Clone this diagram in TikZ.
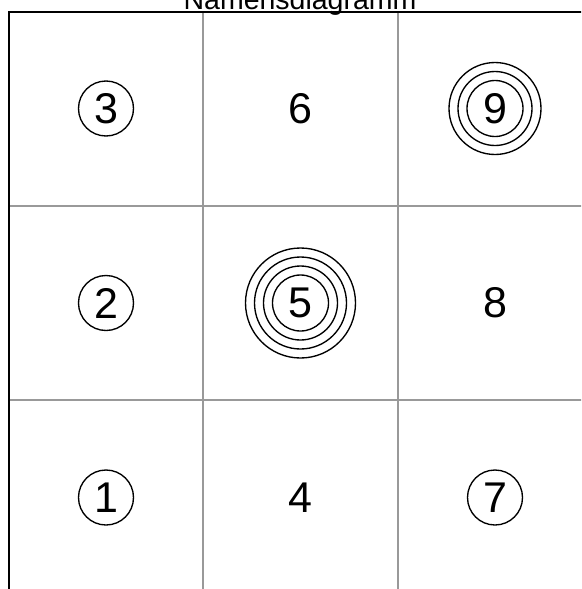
\documentclass[tikz,border=0pt]{standalone}
\usepackage{fontspec}
\setmainfont{Liberation Sans}
\begin{document}
\begin{tikzpicture}[x=1pt,y=-1pt,
  num/.style={inner sep=0pt,font=\fontsize{43}{45}\selectfont},
  ring/.style={draw=black,line width=1.35pt},
  gridl/.style={draw=black!40,line width=1.4pt},
  border/.style={draw=black,line width=2pt}]
\useasboundingbox (0,0) rectangle (581,589);
\clip (0,0) rectangle (581,589);
\fill[white] (0,0) rectangle (581,589);
% grid
\draw[gridl] (203,11) -- (203,600);
\draw[gridl] (398,11) -- (398,600);
\draw[gridl] (9,206) -- (600,206);
\draw[gridl] (9,400) -- (600,400);
\draw[border] (9,600) -- (9,11.5) -- (592,11.5) -- (592,600);
% title
\node[anchor=base,inner sep=0pt,font=\fontsize{28.5}{30}\selectfont] (title) at (300,9.5) {Namensdiagramm};
% numbers
\node[num] (n3) at (106,108.5) {3};
\node[num] (n6) at (300.5,108.5) {6};
\node[num] (n9) at (495,108.5) {9};
\node[num] (n2) at (106,303) {2};
\node[num] (n5) at (300.5,303) {5};
\node[num] (n8) at (495,303) {8};
\node[num] (n1) at (106,497.5) {1};
\node[num] (n4) at (300.5,497.5) {4};
\node[num] (n7) at (495,497.5) {7};
% rings
\foreach \n in {n1,n2,n3,n7}{\draw[ring] (\n.center) circle[radius=27.5];}
\foreach \r in {28,37,46}{\draw[ring] (n9.center) circle[radius=\r];}
\foreach \r in {28,37,46,55}{\draw[ring] (n5.center) circle[radius=\r];}
\end{tikzpicture}
\end{document}
